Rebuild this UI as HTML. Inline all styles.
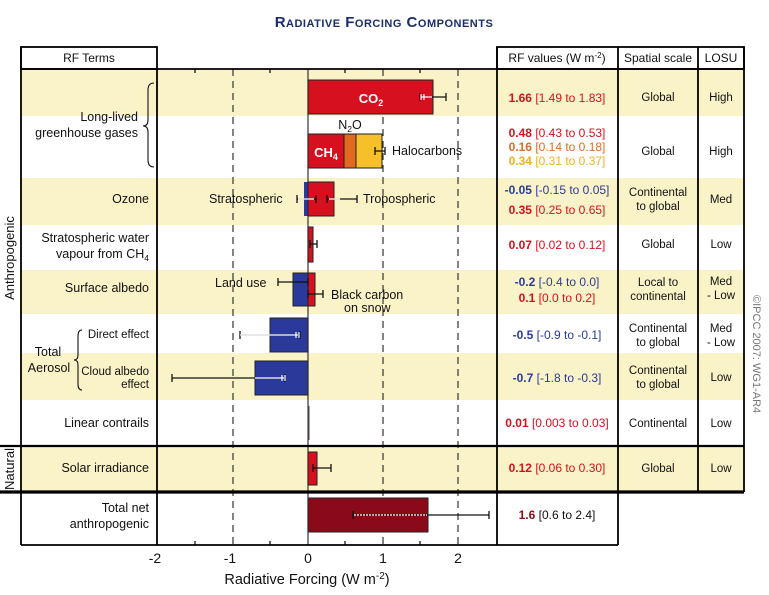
<!DOCTYPE html>
<html><head><meta charset="utf-8"><style>
html,body{margin:0;padding:0;background:#fff;}
svg{display:block;font-family:"Liberation Sans",Arial,sans-serif;}
</style></head><body>
<svg width="769" height="595" viewBox="0 0 769 595" xmlns="http://www.w3.org/2000/svg">
<!-- title -->
<text x="384" y="27" text-anchor="middle" fill="#1a2d6b" font-weight="bold" font-size="15" style="font-variant:small-caps;letter-spacing:0.5px">Radiative Forcing Components</text>

<!-- row backgrounds -->
<g fill="#fbf3c8">
<rect x="21" y="69" width="723" height="47"/>
<rect x="21" y="178" width="723" height="47"/>
<rect x="21" y="270" width="723" height="44"/>
<rect x="21" y="353" width="723" height="47"/>
<rect x="21" y="446" width="723" height="46"/>
</g>

<!-- gridlines -->
<g stroke="#333" stroke-width="1.2" stroke-dasharray="7,5">
<line x1="233" y1="69" x2="233" y2="545"/>
<line x1="383" y1="69" x2="383" y2="545"/>
<line x1="458" y1="69" x2="458" y2="545"/>
</g>
<line x1="308" y1="69" x2="308" y2="545" stroke="#333" stroke-width="1.2"/>
<!-- top ticks -->
<g stroke="#000" stroke-width="1.2">
<line x1="195" y1="69" x2="195" y2="73"/><line x1="270" y1="69" x2="270" y2="73"/>
<line x1="345" y1="69" x2="345" y2="73"/><line x1="420" y1="69" x2="420" y2="73"/>
<line x1="195" y1="545" x2="195" y2="541"/><line x1="270" y1="545" x2="270" y2="541"/>
<line x1="345" y1="545" x2="345" y2="541"/><line x1="420" y1="545" x2="420" y2="541"/>
</g>

<!-- bars -->
<rect x="308" y="80" width="125" height="34" fill="#d7101f" stroke="#222" stroke-width="1"/>
<text x="371" y="103" text-anchor="middle" fill="#fff" font-weight="bold" font-size="13">CO<tspan font-size="9" dy="3">2</tspan></text>
<rect x="308" y="134" width="36" height="34" fill="#d7101f" stroke="#222" stroke-width="1"/>
<rect x="344" y="134" width="12" height="34" fill="#e06a20" stroke="#222" stroke-width="1"/>
<rect x="356" y="134" width="26" height="34" fill="#f6c02a" stroke="#222" stroke-width="1"/>
<text x="326" y="157" text-anchor="middle" fill="#fff" font-weight="bold" font-size="13">CH<tspan font-size="9" dy="3">4</tspan></text>
<text x="350" y="129" text-anchor="middle" fill="#111" font-size="12.5">N<tspan font-size="8.5" dy="3">2</tspan><tspan dy="-3">O</tspan></text>

<rect x="304" y="182" width="4" height="34" fill="#2b3a9a"/>
<rect x="308" y="182" width="26" height="34" fill="#d7101f" stroke="#222" stroke-width="1"/>
<rect x="308" y="227" width="5" height="35" fill="#d7101f" stroke="#222" stroke-width="1"/>
<rect x="293" y="273" width="15" height="33" fill="#2b3a9a" stroke="#222" stroke-width="1"/>
<rect x="308" y="273" width="7" height="33" fill="#d7101f" stroke="#222" stroke-width="1"/>
<rect x="270" y="318" width="38" height="34" fill="#2b3a9a" stroke="#222" stroke-width="1"/>
<rect x="255" y="361" width="53" height="34" fill="#2b3a9a" stroke="#222" stroke-width="1"/>
<rect x="307.5" y="406" width="2" height="34" fill="#444"/>
<rect x="308" y="452" width="9" height="33" fill="#d7101f" stroke="#222" stroke-width="1"/>
<rect x="308" y="498" width="120" height="34" fill="#8b0a1a" stroke="#222" stroke-width="1"/>

<!-- error bars (black outer) -->
<g stroke="#111" stroke-width="1.3" fill="none">
<path d="M420 97H446M420 93v8M446 93v8"/>
<path d="M375 151H385M375 147v8M385 147v8"/>
<path d="M297 199H316M297 195v8M316 195v8"/>
<path d="M327 199H357M327 195v8M357 195v8"/>
<path d="M310 244H317M310 240v8M317 240v8"/>
<path d="M278 282H308M278 278v8M308 278v8"/>
<path d="M308 294H323M308 290v8M323 290v8"/>
<path d="M240 335H300M240 331v8M300 331v8"/>
<path d="M172 378H285M172 374v8M285 374v8"/>
<path d="M313 468H331M313 464v8M331 464v8"/>
<path d="M353 515H489M353 511v8M489 511v8"/>
</g>
<g stroke="#fff" stroke-width="1.2" fill="none">
<path d="M421 97H432M421 94v6M424 94v6"/>
<path d="M298 199H314M329 199H340"/>
<path d="M240 335H298M296 332v6M299 332v6"/>
<path d="M255 378H284M282 375v6M285 375v6"/>
<path d="M354 515H427" stroke-dasharray="2,1"/>
</g>

<!-- plot text labels -->
<g font-size="12.5" fill="#111">
<text x="392" y="155">Halocarbons</text>
<text x="209" y="203">Stratospheric</text>
<text x="363" y="203">Tropospheric</text>
<text x="215" y="287">Land use</text>
<text x="331" y="299">Black carbon</text>
<text x="344" y="312">on snow</text>
</g>

<!-- table borders -->
<g stroke="#000" fill="none" stroke-width="1.8">
<rect x="21" y="47" width="136" height="22"/>
<rect x="497" y="47" width="247" height="22"/>
<line x1="21" y1="69" x2="744" y2="69"/>
<line x1="21" y1="47" x2="21" y2="545"/>
<line x1="157" y1="69" x2="157" y2="545"/>
<line x1="497" y1="47" x2="497" y2="545"/>
<line x1="618" y1="47" x2="618" y2="545"/>
<line x1="698" y1="47" x2="698" y2="492"/>
<line x1="744" y1="47" x2="744" y2="492"/>
<line x1="21" y1="545" x2="618" y2="545"/>
<line x1="21" y1="446" x2="744" y2="446" stroke-width="2.2"/>
<line x1="0" y1="492" x2="744" y2="492" stroke-width="3.2"/>
<line x1="0" y1="446" x2="21" y2="446" stroke-width="2.2"/>
</g>

<!-- header text -->
<g font-size="12" fill="#111" text-anchor="middle">
<text x="89" y="62">RF Terms</text>
<text x="557" y="62">RF values (W m<tspan font-size="8" dy="-4">-2</tspan><tspan dy="4">)</tspan></text>
<text x="658" y="62">Spatial scale</text>
<text x="721" y="62">LOSU</text>
</g>

<!-- left labels -->
<g font-size="12.5" fill="#111" text-anchor="end">
<text x="138" y="121">Long-lived</text>
<text x="138" y="137">greenhouse gases</text>
<text x="149" y="203">Ozone</text>
<text x="149" y="242">Stratospheric water</text>
<text x="149" y="258">vapour from CH<tspan font-size="8.5" dy="3">4</tspan></text>
<text x="149" y="292">Surface albedo</text>
<text x="149" y="427">Linear contrails</text>
<text x="149" y="472">Solar irradiance</text>
<text x="149" y="512">Total net</text>
<text x="149" y="528">anthropogenic</text>
</g>
<g font-size="11.5" fill="#111" text-anchor="end">
<text x="149" y="338">Direct effect</text>
<text x="149" y="375">Cloud albedo</text>
<text x="149" y="388">effect</text>
</g>
<g font-size="12.5" fill="#111" text-anchor="middle">
<text x="48" y="356">Total</text>
<text x="49" y="372">Aerosol</text>
</g>
<!-- braces -->
<g stroke="#111" stroke-width="1.1" fill="none">
<path d="M154 83 Q148 83 148 90 V120 Q148 126 143 126 Q148 126 148 132 V160 Q148 167 154 167"/>
<path d="M82 330 Q78 330 78 336 V355 Q78 360 74 360 Q78 360 78 365 V384 Q78 390 82 390"/>
</g>
<g font-size="13" fill="#111" text-anchor="middle">
<text transform="translate(14,258) rotate(-90)">Anthropogenic</text>
<text transform="translate(14,469) rotate(-90)">Natural</text>
</g>

<!-- RF values -->
<g font-size="12" text-anchor="middle">
<text x="557" y="102" fill="#d7101f"><tspan font-weight="bold">1.66</tspan> [1.49 to 1.83]</text>
<text x="557" y="137" fill="#d7101f"><tspan font-weight="bold">0.48</tspan> [0.43 to 0.53]</text>
<text x="557" y="151" fill="#e06a20"><tspan font-weight="bold">0.16</tspan> [0.14 to 0.18]</text>
<text x="557" y="165" fill="#f2b01e"><tspan font-weight="bold">0.34</tspan> [0.31 to 0.37]</text>
<text x="557" y="194" fill="#2b3a9a"><tspan font-weight="bold">-0.05</tspan> [-0.15 to 0.05]</text>
<text x="557" y="214" fill="#d7101f"><tspan font-weight="bold">0.35</tspan> [0.25 to 0.65]</text>
<text x="557" y="249" fill="#d7101f"><tspan font-weight="bold">0.07</tspan> [0.02 to 0.12]</text>
<text x="557" y="286" fill="#2b3a9a"><tspan font-weight="bold">-0.2</tspan> [-0.4 to 0.0]</text>
<text x="557" y="302" fill="#d7101f"><tspan font-weight="bold">0.1</tspan> [0.0 to 0.2]</text>
<text x="557" y="339" fill="#2b3a9a"><tspan font-weight="bold">-0.5</tspan> [-0.9 to -0.1]</text>
<text x="557" y="382" fill="#2b3a9a"><tspan font-weight="bold">-0.7</tspan> [-1.8 to -0.3]</text>
<text x="557" y="427" fill="#d7101f"><tspan font-weight="bold">0.01</tspan> [0.003 to 0.03]</text>
<text x="557" y="472" fill="#d7101f"><tspan font-weight="bold">0.12</tspan> [0.06 to 0.30]</text>
<text x="557" y="519" fill="#8b0a1a"><tspan font-weight="bold">1.6</tspan> <tspan fill="#111">[0.6 to 2.4]</tspan></text>
</g>
<g font-size="11.5" fill="#111" text-anchor="middle">
<text x="658" y="101">Global</text>
<text x="658" y="155">Global</text>
<text x="658" y="196">Continental</text>
<text x="658" y="210">to global</text>
<text x="658" y="248">Global</text>
<text x="658" y="286">Local to</text>
<text x="658" y="300">continental</text>
<text x="658" y="332">Continental</text>
<text x="658" y="346">to global</text>
<text x="658" y="374">Continental</text>
<text x="658" y="388">to global</text>
<text x="658" y="427">Continental</text>
<text x="658" y="472">Global</text>
<text x="721" y="101">High</text>
<text x="721" y="155">High</text>
<text x="721" y="203">Med</text>
<text x="721" y="248">Low</text>
<text x="721" y="285">Med</text>
<text x="721" y="299">- Low</text>
<text x="721" y="332">Med</text>
<text x="721" y="346">- Low</text>
<text x="721" y="381">Low</text>
<text x="721" y="427">Low</text>
<text x="721" y="472">Low</text>
</g>
<text transform="translate(753,295) rotate(90)" font-size="11" fill="#777">©IPCC  2007: WG1-AR4</text>

<!-- x axis -->
<g font-size="14" fill="#111" text-anchor="middle">
<text x="155" y="563">-2</text>
<text x="230" y="563">-1</text>
<text x="308" y="563">0</text>
<text x="383" y="563">1</text>
<text x="458" y="563">2</text>
</g>
<text x="307" y="584" text-anchor="middle" font-size="14.5" fill="#111">Radiative Forcing  (W m<tspan font-size="10" dy="-5">-2</tspan><tspan dy="5">)</tspan></text>
</svg>
</body></html>
